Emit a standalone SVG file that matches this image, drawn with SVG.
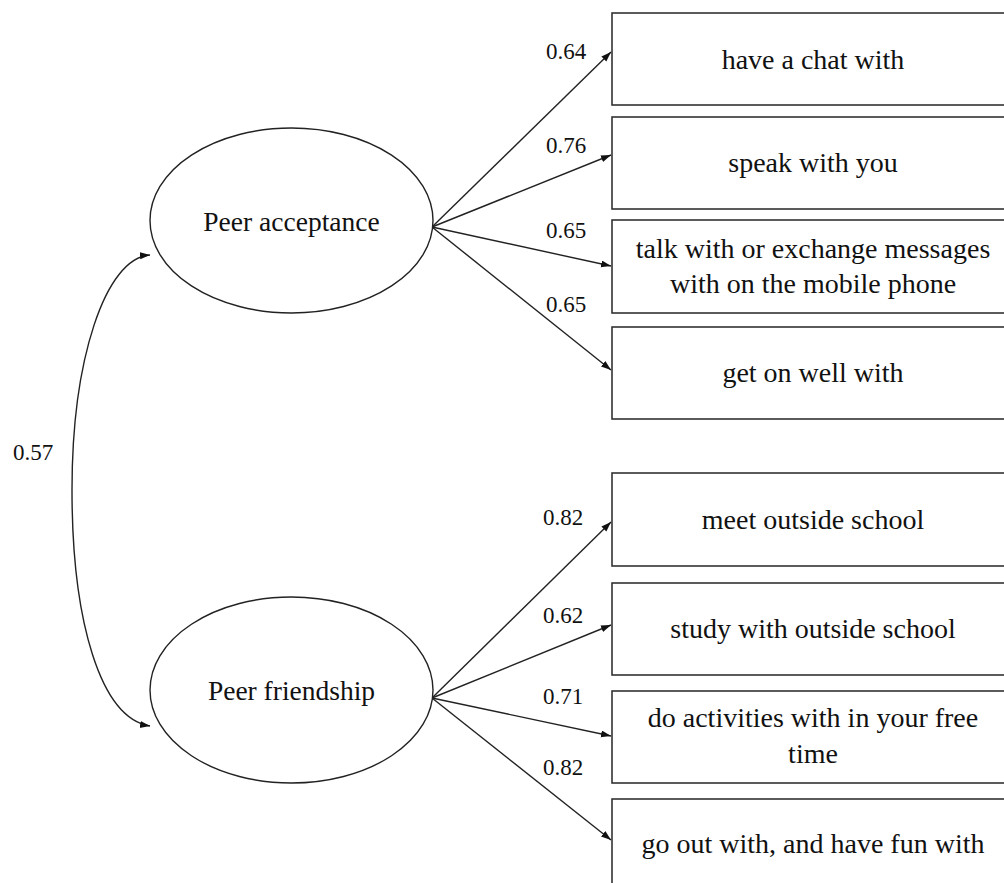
<svg xmlns="http://www.w3.org/2000/svg" width="1004" height="883" viewBox="0 0 1004 883">
<style>
.box{fill:#fff;stroke:#333;stroke-width:1.6}
.ell{fill:#fff;stroke:#222;stroke-width:1.4}
.t{font-family:"Liberation Serif","Times New Roman",serif;font-size:28px;fill:#111;text-anchor:middle}
.e{font-size:27.5px}
.n{font-family:"Liberation Serif","Times New Roman",serif;font-size:23px;fill:#111}
.c{fill:none;stroke:#222;stroke-width:1.4}
</style>
<defs>
<marker id="ah" markerUnits="userSpaceOnUse" markerWidth="11" markerHeight="8" refX="10" refY="3.5" orient="auto-start-reverse">
<path d="M0,0 L10,3.5 L0,7 z" fill="#111"/>
</marker>
</defs>
<rect width="1004" height="883" fill="#fff"/>
<g id="connectors">
<path class="c" d="M150,255 C105,258 72,360 72,490 C72,620 100,718 150,726" marker-start="url(#ah)" marker-end="url(#ah)"/>
<line class="c" x1="432" y1="227" x2="611" y2="52" marker-end="url(#ah)"/>
<line class="c" x1="432" y1="227" x2="611" y2="155" marker-end="url(#ah)"/>
<line class="c" x1="432" y1="227" x2="611" y2="266" marker-end="url(#ah)"/>
<line class="c" x1="432" y1="227" x2="611" y2="370" marker-end="url(#ah)"/>
<line class="c" x1="432" y1="698" x2="611" y2="522" marker-end="url(#ah)"/>
<line class="c" x1="432" y1="698" x2="611" y2="625" marker-end="url(#ah)"/>
<line class="c" x1="432" y1="698" x2="611" y2="736" marker-end="url(#ah)"/>
<line class="c" x1="432" y1="698" x2="611" y2="840" marker-end="url(#ah)"/>
<text class="n" x="13" y="460">0.57</text>
<text class="n" x="546" y="59">0.64</text>
<text class="n" x="546" y="153">0.76</text>
<text class="n" x="546" y="238">0.65</text>
<text class="n" x="546" y="312">0.65</text>
<text class="n" x="543" y="525">0.82</text>
<text class="n" x="543" y="623">0.62</text>
<text class="n" x="543" y="704">0.71</text>
<text class="n" x="543" y="775">0.82</text>
</g>
<g id="peer-acceptance">
<ellipse class="ell" cx="291.5" cy="220.5" rx="141.5" ry="92.5"/>
<text class="t e" x="291.5" y="231">Peer acceptance</text>
</g>
<g id="peer-friendship">
<ellipse class="ell" cx="291.5" cy="690" rx="141.5" ry="93"/>
<text class="t e" x="291.5" y="700">Peer friendship</text>
</g>
<g id="item1"><rect class="box" x="612" y="13" width="402" height="92"/><text class="t" x="813" y="69">have a chat with</text></g>
<g id="item2"><rect class="box" x="612" y="117" width="402" height="92"/><text class="t" x="813" y="172">speak with you</text></g>
<g id="item3"><rect class="box" x="612" y="220" width="402" height="93"/><text class="t" x="813" y="258">talk with or exchange messages</text><text class="t" x="813" y="293">with on the mobile phone</text></g>
<g id="item4"><rect class="box" x="612" y="327" width="402" height="92"/><text class="t" x="813" y="382">get on well with</text></g>
<g id="item5"><rect class="box" x="612" y="473" width="402" height="93"/><text class="t" x="813" y="529">meet outside school</text></g>
<g id="item6"><rect class="box" x="612" y="583" width="402" height="92"/><text class="t" x="813" y="638">study with outside school</text></g>
<g id="item7"><rect class="box" x="612" y="691" width="402" height="92"/><text class="t" x="813" y="727">do activities with in your free</text><text class="t" x="813" y="763">time</text></g>
<g id="item8"><rect class="box" x="612" y="799" width="402" height="100"/><text class="t" x="813" y="853">go out with, and have fun with</text></g>
</svg>
